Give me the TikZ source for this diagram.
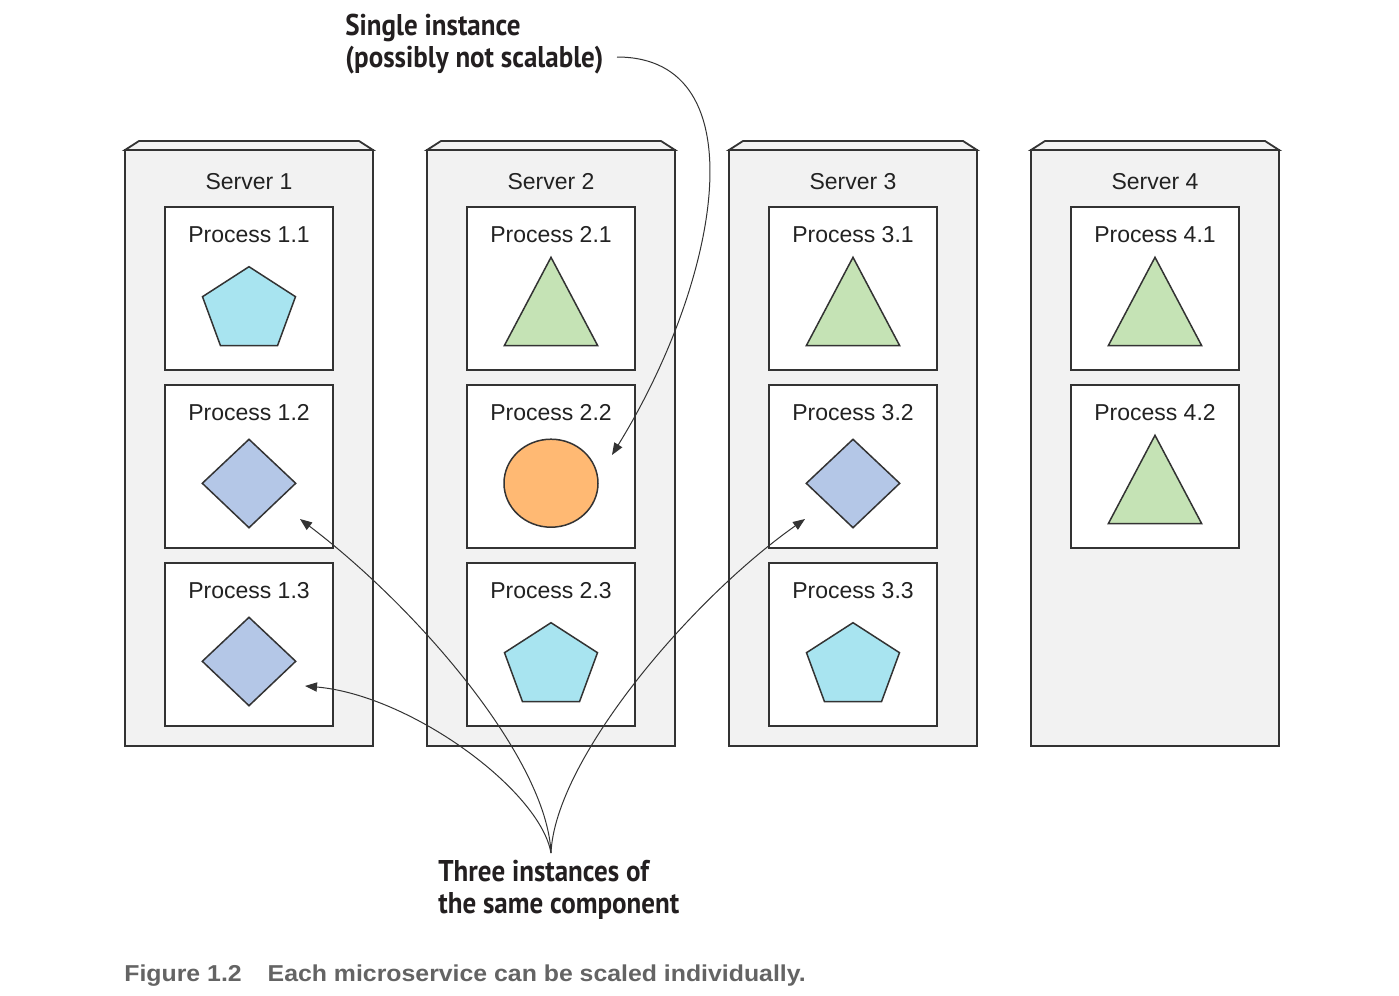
\documentclass[tikz,border=0pt]{standalone}
\usepackage{fontspec}
\setmainfont{Liberation Sans}
\newfontfamily\annotfont[FakeStretch=0.9]{PT Sans}
\newfontfamily\capfont[FakeStretch=1.08]{Liberation Sans}
\usetikzlibrary{arrows.meta,calc}
\definecolor{srvc}{HTML}{F2F2F2}
\definecolor{bordc}{HTML}{333333}
\definecolor{linec}{HTML}{333333}
\definecolor{txtc}{HTML}{222222}
\definecolor{anntxt}{HTML}{231F20}
\definecolor{pentc}{HTML}{A8E4F0}
\definecolor{tric}{HTML}{C5E3B5}
\definecolor{diamc}{HTML}{B4C7E7}
\definecolor{circc}{HTML}{FFB973}
\definecolor{capc}{HTML}{646464}
\tikzset{
  server/.style={draw=bordc, fill=srvc, line width=0.9pt, minimum width=124pt, minimum height=298pt, inner sep=0pt, outer sep=0pt},
  serverbevel/.style={draw=bordc, fill=srvc, line width=0.9pt, line join=miter},
  proc/.style={draw=bordc, fill=white, line width=0.9pt, minimum width=84pt, minimum height=81.5pt, inner sep=0pt, outer sep=0pt},
  lbl/.style={font=\fontsize{11.5}{13}\selectfont, text=txtc, inner sep=0pt, anchor=base},
  figshape/.style={draw=bordc, line width=0.75pt, line join=miter},
  ann/.style={font=\annotfont\bfseries\fontsize{15}{16}\selectfont, text=anntxt, align=left, inner sep=0pt, anchor=north west},
  capstyle/.style={font=\capfont\bfseries\fontsize{11.5}{14}\selectfont, text=capc, inner sep=0pt, anchor=base west},
  conn/.style={draw=linec, line width=0.5pt, -{Triangle[length=6pt,width=4.6pt]}},
  pent/.pic={\path[figshape, fill=pentc] (0,-21.8) -- (46.5,8.2) -- (28.5,57.2) -- (-28.5,57.2) -- (-46.5,8.2) -- cycle;},
  tri/.pic={\path[figshape, fill=tric] (0,-31.2) -- (46.7,57.2) -- (-46.7,57.2) -- cycle;},
  diam/.pic={\path[figshape, fill=diamc] (0,-27.2) -- (46.7,16.8) -- (0,61.2) -- (-46.7,16.8) -- cycle;},
  circ/.pic={\path[figshape, fill=circc] (0,16.7) ellipse [x radius=47, y radius=44];}
}
\begin{document}
\begin{tikzpicture}[x=0.5pt,y=-0.5pt]
\useasboundingbox (0,0) rectangle (1399,996);
% servers
\foreach \i in {1,2,3,4} {
  \node[server] (srv\i) at ({249+302*(\i-1)},448) {};
  \path[serverbevel] (srv\i.north west) -- ++(14,-9) -- ++(220,0) -- (srv\i.north east) -- cycle;
  \node[lbl] (srvl\i) at ({249+302*(\i-1)},189) {Server \i};
}
% processes
\foreach \i/\j/\s in {1/1/pent,1/2/diam,1/3/diam,2/1/tri,2/2/circ,2/3/pent,3/1/tri,3/2/diam,3/3/pent,4/1/tri,4/2/tri} {
  \node[proc] (p\i\j) at ({249+302*(\i-1)},{288.5+178*(\j-1)}) {};
  \node[lbl] (pl\i\j) at ({249+302*(\i-1)},{242+178*(\j-1)}) {Process \i.\j};
  \pic at (p\i\j.center) {\s};
}
% annotations
\node[ann] (single) at (345,14) {Single instance\\(possibly not scalable)};
\node[ann] (three) at (438,860) {Three instances of\\the same component};
% connectors
\coordinate (a0) at (617,57);
\coordinate (t22) at (612,455);
\draw[conn] (a0) .. controls (760,57) and (720,280) .. (t22);
\coordinate (b0) at (551,853);
\coordinate (t12) at (300,519);
\coordinate (t13) at (305,686);
\coordinate (t32) at (805,519);
\draw[conn] (b0) .. controls (547,760) and (420,610) .. (t12);
\draw[conn] (b0) .. controls (540,790) and (410,695) .. (t13);
\draw[conn] (b0) .. controls (555,760) and (690,600) .. (t32);
% caption
\node[capstyle] (cap) at (124,981) {Figure 1.2\hspace{13pt}Each microservice can be scaled individually.};
\end{tikzpicture}
\end{document}
